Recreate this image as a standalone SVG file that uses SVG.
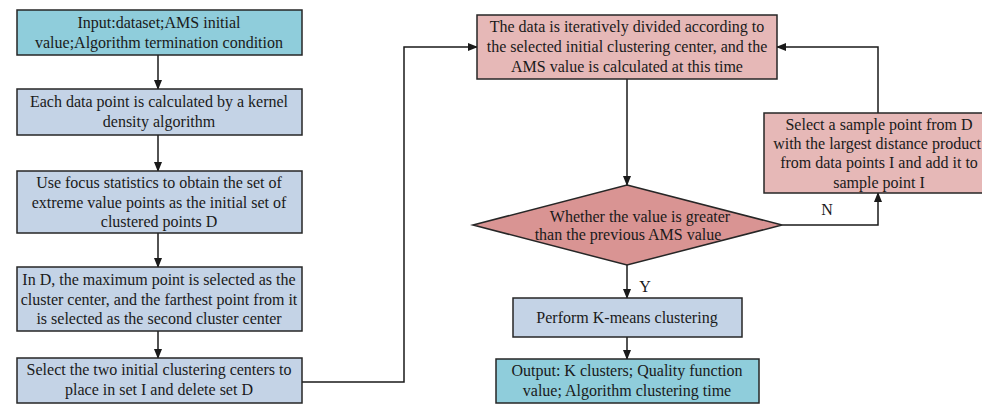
<svg xmlns="http://www.w3.org/2000/svg" width="982" height="405" viewBox="0 0 982 405">
  <style>
    text { font-family: "Liberation Serif", "Times New Roman", serif; font-size: 16px; fill: #1a1a1a; text-anchor: middle; }
    .box { stroke: #262626; stroke-width: 1.5; }
    .cyan { fill: #8FCDDB; }
    .blue { fill: #C4D3E6; }
    .pink { fill: #E6B8B7; }
    .rose { fill: #D99493; }
    .wire { fill: none; stroke: #1a1a1a; stroke-width: 1.5; }
  </style>
  <defs>
    <marker id="arrow" markerWidth="10" markerHeight="8" refX="9" refY="4" orient="auto" markerUnits="userSpaceOnUse">
      <path d="M0,0 L10,4 L0,8 Z" fill="#1a1a1a"/>
    </marker>
  </defs>
  <rect width="982" height="405" fill="#ffffff"/>

  <g id="connectors">
    <line class="wire" x1="158" y1="55" x2="158" y2="89" marker-end="url(#arrow)"/>
    <line class="wire" x1="158" y1="135" x2="158" y2="171" marker-end="url(#arrow)"/>
    <line class="wire" x1="158" y1="233" x2="158" y2="267" marker-end="url(#arrow)"/>
    <line class="wire" x1="158" y1="331" x2="158" y2="358" marker-end="url(#arrow)"/>
    <polyline class="wire" points="302,382 404,382 404,47 477,47" marker-end="url(#arrow)"/>
    <line class="wire" x1="627" y1="79" x2="627" y2="185" marker-end="url(#arrow)"/>
    <line class="wire" x1="627" y1="265" x2="627" y2="298" marker-end="url(#arrow)"/>
    <line class="wire" x1="627" y1="337" x2="627" y2="359" marker-end="url(#arrow)"/>
    <polyline class="wire" points="782,225 878,225 878,193" marker-end="url(#arrow)"/>
    <polyline class="wire" points="878,113 878,47 777,47" marker-end="url(#arrow)"/>
    <text x="645" y="292">Y</text>
    <text x="827" y="215">N</text>
  </g>

  <g id="input">
    <rect class="box cyan" x="17" y="10" width="285" height="45"/>
    <text x="159" y="28">Input:dataset;AMS initial</text>
    <text x="159" y="48">value;Algorithm termination condition</text>
  </g>

  <g id="kernel-density">
    <rect class="box blue" x="17" y="89" width="285" height="46"/>
    <text x="159" y="107">Each data point is calculated by a kernel</text>
    <text x="159" y="127">density algorithm</text>
  </g>

  <g id="focus-statistics">
    <rect class="box blue" x="17" y="171" width="285" height="62"/>
    <text x="159" y="188">Use focus statistics to obtain the set of</text>
    <text x="159" y="208">extreme value points as the initial set of</text>
    <text x="159" y="227">clustered points D</text>
  </g>

  <g id="max-point">
    <rect class="box blue" x="17" y="267" width="285" height="64"/>
    <text x="159" y="285">In D, the maximum point is selected as the</text>
    <text x="159" y="305">cluster center, and the farthest point from it</text>
    <text x="159" y="324">is selected as the second cluster center</text>
  </g>

  <g id="initial-centers">
    <rect class="box blue" x="17" y="358" width="285" height="45"/>
    <text x="159" y="375">Select the two initial clustering centers to</text>
    <text x="159" y="395">place in set I and delete set D</text>
  </g>

  <g id="iterate">
    <rect class="box pink" x="477" y="15" width="300" height="64"/>
    <text x="627" y="32">The data is iteratively divided according to</text>
    <text x="627" y="52">the selected initial clustering center, and the</text>
    <text x="627" y="72">AMS value is calculated at this time</text>
  </g>

  <g id="compare">
    <polygon class="box rose" points="627,185 782,225 627,265 473,225"/>
    <text x="640" y="222">Whether the value is greater</text>
    <text x="628" y="240">than the previous AMS value</text>
  </g>

  <g id="select-sample">
    <rect class="box pink" x="764" y="113" width="240" height="80"/>
    <text x="879" y="130">Select a sample point from D</text>
    <text x="877" y="149">with the largest distance product</text>
    <text x="879" y="168">from data points  I and add it to</text>
    <text x="879" y="188">sample point I</text>
  </g>

  <g id="kmeans">
    <rect class="box blue" x="513" y="298" width="229" height="39"/>
    <text x="627" y="323">Perform K-means clustering</text>
  </g>

  <g id="output">
    <rect class="box cyan" x="496" y="359" width="263" height="44"/>
    <text x="627" y="376">Output: K clusters; Quality function</text>
    <text x="627" y="396">value; Algorithm clustering time</text>
  </g>
</svg>
